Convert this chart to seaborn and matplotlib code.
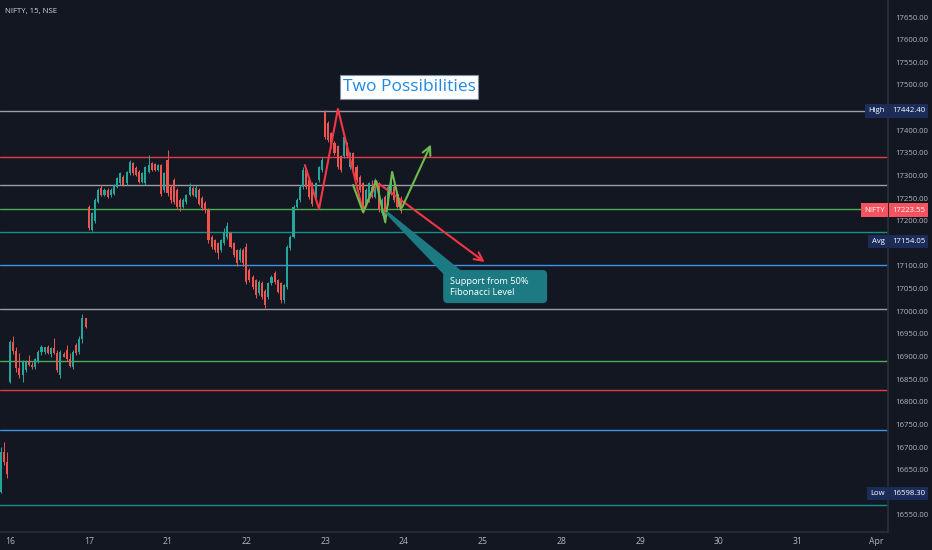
import numpy as np
import pandas as pd
import matplotlib
matplotlib.use("Agg")
import matplotlib.pyplot as plt
from matplotlib.patches import Polygon, Rectangle, FancyBboxPatch
import seaborn as sns

# renkler
BG = '#131722'
TXT = '#b2b5be'
UP = '#26a69a'
DOWN = '#ef5350'

# 15 dakikalik mumlar: 15 Mart sonu (3 mum), sonra 16, 17, 21, 22, 23 Mart (25'er mum)
opens = [16600, 16690, 16668,
         16844, 16933, 16912, 16875, 16860, 16870, 16890, 16882, 16876, 16888, 16910, 16910, 16920,
         16905, 16918, 16907, 16860, 16905, 16915, 16895, 16876, 16925, 16910, 16938, 16985,
         17231, 17180, 17200, 17242, 17272, 17257, 17268, 17256, 17260, 17275, 17283, 17297, 17283,
         17305, 17327, 17316, 17308, 17286, 17283, 17308, 17327, 17325, 17312, 17323, 17268,
         17334, 17275, 17290, 17268, 17246, 17231, 17242, 17257, 17272, 17253, 17268, 17250, 17240,
         17224, 17165, 17157, 17150, 17135, 17150, 17165, 17172, 17150, 17135, 17113, 17135,
         17143, 17091, 17076, 17069, 17040, 17062, 17045, 17032, 17062, 17084, 17069, 17062, 17025,
         17054, 17140, 17165, 17231, 17246, 17275, 17312, 17290, 17283, 17253, 17290, 17312,
         17441, 17415, 17393, 17371, 17364, 17342, 17342, 17371, 17319, 17349, 17319, 17297, 17283,
         17238, 17246, 17275, 17253, 17283, 17216, 17253, 17238, 17260, 17275, 17260, 17246]
highs = [16700, 16712, 16690,
         16936, 16945, 16922, 16907, 16892, 16892, 16903, 16889, 16896, 16914, 16925, 16922, 16926,
         16922, 16940, 16914, 16914, 16910, 16925, 16907, 16914, 16930, 16945, 16995, 16986,
         17235, 17220, 17250, 17272, 17278, 17272, 17272, 17272, 17282, 17297, 17308, 17300, 17310,
         17334, 17330, 17320, 17312, 17308, 17322, 17345, 17330, 17328, 17326, 17326, 17308,
         17356, 17280, 17295, 17272, 17250, 17250, 17260, 17283, 17276, 17280, 17272, 17254, 17243,
         17228, 17168, 17160, 17153, 17160, 17185, 17198, 17176, 17154, 17138, 17140, 17140,
         17150, 17095, 17080, 17072, 17068, 17066, 17050, 17065, 17080, 17088, 17072, 17065, 17060,
         17146, 17168, 17234, 17250, 17278, 17318, 17316, 17294, 17286, 17286, 17322, 17340,
         17445, 17420, 17396, 17376, 17368, 17346, 17393, 17375, 17352, 17352, 17323, 17300, 17286,
         17272, 17286, 17290, 17294, 17286, 17250, 17256, 17278, 17295, 17278, 17264, 17255]
lows = [16598, 16660, 16632,
        16841, 16905, 16866, 16852, 16844, 16866, 16880, 16872, 16872, 16885, 16903, 16905, 16905,
        16900, 16905, 16866, 16852, 16898, 16890, 16877, 16872, 16903, 16905, 16930, 16962,
        17180, 17178, 17196, 17240, 17254, 17254, 17250, 17253, 17257, 17272, 17280, 17276, 17280,
        17302, 17302, 17298, 17283, 17283, 17280, 17305, 17310, 17310, 17310, 17255, 17264,
        17255, 17240, 17236, 17225, 17222, 17228, 17238, 17254, 17254, 17250, 17234, 17224, 17218,
        17150, 17138, 17130, 17115, 17130, 17146, 17160, 17140, 17120, 17100, 17108, 17100,
        17060, 17065, 17050, 17030, 17036, 17028, 17008, 17028, 17058, 17060, 17040, 17018, 17018,
        17050, 17136, 17162, 17228, 17242, 17270, 17270, 17248, 17232, 17250, 17286, 17308,
        17380, 17374, 17360, 17345, 17315, 17308, 17338, 17338, 17315, 17308, 17286, 17264, 17218,
        17234, 17242, 17250, 17250, 17220, 17212, 17194, 17234, 17256, 17242, 17228, 17218]
closes = [16690, 16668, 16640,
          16933, 16912, 16875, 16860, 16890, 16888, 16882, 16876, 16894, 16910, 16920, 16920, 16908,
          16918, 16907, 16870, 16910, 16900, 16895, 16880, 16910, 16908, 16938, 16985, 16966,
          17183, 17216, 17246, 17268, 17257, 17268, 17253, 17268, 17279, 17294, 17305, 17279, 17308,
          17330, 17305, 17301, 17286, 17305, 17319, 17323, 17312, 17312, 17323, 17260, 17305,
          17262, 17245, 17242, 17231, 17231, 17246, 17257, 17275, 17257, 17272, 17238, 17228, 17224,
          17157, 17143, 17135, 17128, 17157, 17176, 17188, 17143, 17124, 17106, 17135, 17106,
          17065, 17069, 17054, 17036, 17065, 17032, 17014, 17062, 17076, 17065, 17043, 17025, 17058,
          17143, 17165, 17231, 17246, 17275, 17312, 17275, 17253, 17238, 17283, 17319, 17334,
          17386, 17378, 17364, 17349, 17319, 17312, 17386, 17342, 17349, 17312, 17290, 17268, 17224,
          17268, 17283, 17253, 17290, 17224, 17246, 17202, 17275, 17283, 17246, 17231, 17223.55]

# x ekseni gun etiketleri (gun basina 25 mum, ilk 3 mum 15 Mart)
day_labels = ['16', '17', '21', '22', '23', '24', '25', '28', '29', '30', '31', 'Apr']
bars_per_day = 25
first_offset = 3

# yatay seviyeler ve renkleri
levels = [17442, 17341, 17279, 17226, 17175, 17102, 17005, 16890, 16826, 16738, 16572]
level_colors = ['#9a9da6', '#e23b45', '#9a9da6', '#4caf50', '#12918a', '#3d93e6',
                '#9a9da6', '#4caf50', '#e23b45', '#3d93e6', '#12918a']

# cizimler (mum sirasi, fiyat)
red_zig_x = [96.6, 101.1, 107.1, 115.1, 119.5]
red_zig_y = [17323, 17226, 17447, 17219, 17285]
red_arrow_end = (154.4, 17105)
green_zig_x = [111.9, 115.1, 119.2, 122.1, 124.3, 127.1]
green_zig_y = [17279, 17219, 17288, 17197, 17308, 17224]
green_arrow_end = (137.0, 17374)

# sag eksen etiketleri
price_tags = ['High', 'NIFTY', 'Avg', 'Low']
price_values = [17442.40, 17223.55, 17154.05, 16598.30]
tag_colors = ['#1c2c5a', '#f7525f', '#1c2c5a', '#1c2c5a']

right_ticks = [16550, 16650, 16700, 16750, 16800, 16850, 16900, 16950, 17000, 17050, 17100,
               17200, 17250, 17300, 17350, 17400, 17500, 17550, 17600, 17650]

df = pd.DataFrame({'open': opens, 'high': highs, 'low': lows, 'close': closes})
df['idx'] = np.arange(len(df))
df['up'] = df['close'] >= df['open']

sns.set_theme(style='dark', rc={'axes.facecolor': BG, 'figure.facecolor': BG,
                                'axes.edgecolor': '#2a2e39', 'text.color': TXT,
                                'xtick.color': TXT, 'ytick.color': TXT})
plt.rcParams['font.family'] = ['Open Sans', 'DejaVu Sans']

fig = plt.figure(figsize=(9.32, 5.5), dpi=100)
ax = fig.add_axes([0, 18 / 550, 888 / 932, 532 / 550])

# seviyeler
for lv, col in zip(levels, level_colors):
    ax.axhline(lv, color=col, lw=1.0, zorder=1)

# mumlar
cols = np.where(df['up'], UP, DOWN)
ax.vlines(df['idx'], df['low'], df['high'], colors=cols, lw=0.7, zorder=2)
body_low = np.minimum(df['open'], df['close'])
body_h = np.maximum(np.abs(df['close'] - df['open']), 1.0)
ax.bar(df['idx'], body_h, bottom=body_low, width=0.66, color=cols, lw=0, zorder=3)

# zigzag cizimleri
ax.plot(red_zig_x, red_zig_y, color='#f23645', lw=1.5, zorder=4)
ax.annotate('', xy=red_arrow_end, xytext=(red_zig_x[-1], red_zig_y[-1]),
            arrowprops=dict(arrowstyle='->', color='#f23645', lw=1.5, mutation_scale=15), zorder=4)
ax.plot(green_zig_x, green_zig_y, color='#6dbb4e', lw=1.5, zorder=4)
ax.annotate('', xy=green_arrow_end, xytext=(green_zig_x[-1], green_zig_y[-1]),
            arrowprops=dict(arrowstyle='->', color='#6dbb4e', lw=1.5, mutation_scale=15), zorder=4)

# destek notu
callout = '#1b7a82'
ax.add_patch(Polygon([(121.8, 17219), (123.2, 17219), (146.0, 17091), (140.6, 17082)],
                     closed=True, fc=callout, ec='none', zorder=5))
aspect = (1 / 0.4527) / (1 / 3.15)
ax.add_patch(FancyBboxPatch((140.5, 17018), 33.0, 73, boxstyle='round,pad=0,rounding_size=1.4',
                            mutation_aspect=aspect, fc=callout, ec='none', zorder=5))
ax.text(142.6, 17054, 'Support from 50%\nFibonacci Level', color='white', fontsize=6.7,
        ha='left', va='center', linespacing=1.2, zorder=6)

# baslik kutusu
ax.add_patch(Rectangle((107.8, 17469), 43.8, 53, fc='white', ec='#7f8fa6', lw=0.8, zorder=6))
ax.text(129.7, 17496, 'Two Possibilities', color='#1e88e5', fontsize=12.5,
        ha='center', va='center', zorder=7)

# sol ust sembol bilgisi
fig.text(5 / 932, 1 - 12 / 550, 'NIFTY, 15, NSE', color='#d1d4dc', fontsize=5.6, va='center', ha='left')

# eksenler
ax.set_xlim(-0.17, 281.7)
ax.set_ylim(16512.4, 17687.6)
ax.set_xticks([first_offset + i * bars_per_day for i in range(len(day_labels))])
ax.set_xticklabels(day_labels, fontsize=6.2)
ax.yaxis.tick_right()
ax.set_yticks(right_ticks)
ax.set_yticklabels([f'{t:.2f}' for t in right_ticks], fontsize=5.6)
ax.tick_params(axis='y', length=0, pad=5)
ax.tick_params(axis='x', length=0, pad=3.5)
for s in ['top', 'left']:
    ax.spines[s].set_visible(False)
ax.spines['right'].set_color('#2a2e39')
ax.spines['bottom'].set_color('#2a2e39')
ax.grid(False)

# fiyat etiketleri
ytr = ax.get_yaxis_transform()
for tag, val, col in zip(price_tags, price_values, tag_colors):
    ax.text(0.996, val, tag, transform=ytr, ha='right', va='center', color='white', fontsize=5.6,
            bbox=dict(boxstyle='square,pad=0.4', fc=col, ec='none'), clip_on=False, zorder=8)
    ax.text(1.0045, val, f'{val:.2f}', transform=ytr, ha='left', va='center', color='white',
            fontsize=5.6, bbox=dict(boxstyle='square,pad=0.4', fc=col, ec='none'),
            clip_on=False, zorder=8)

fig.savefig('out.png', dpi=100, facecolor=BG)
